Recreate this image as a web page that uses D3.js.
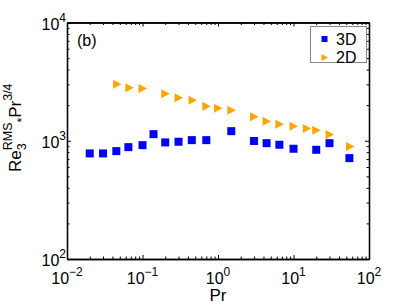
<!DOCTYPE html>
<html>
<head>
<meta charset="utf-8">
<script src="https://cdn.jsdelivr.net/npm/d3@7"></script>
<style>
body { margin: 0; background: #fff; }
text { font-family: "Liberation Sans", Arial, sans-serif; fill: #000; }
.axis path, .axis line { stroke: #000; }
</style>
</head>
<body>
<div id="chart"></div>
<script>
var W = 407, H = 306;

// 3D data (blue squares)
var pr3D = [0.02, 0.03, 0.045, 0.065, 0.1, 0.14, 0.2, 0.3, 0.45, 0.7, 1.5, 3, 4.4, 6.5, 10, 20, 30, 55];
var re3D = [781, 781, 817, 883, 918, 1137, 968, 981, 1012, 1012, 1205, 995, 954, 925, 856, 839, 954, 713];

// 2D data (orange triangles)
var pr2D = [0.046, 0.067, 0.1, 0.2, 0.3, 0.46, 0.7, 1.0, 1.5, 3, 4.4, 6.5, 10, 15, 20, 30, 56];
var re2D = [3010, 2805, 2767, 2495, 2308, 2203, 1960, 1886, 1815, 1596, 1465, 1381, 1328, 1270, 1229, 1130, 895];

var xTicks = [1e-2, 1e-1, 1e0, 1e1, 1e2];
var xExps = ["\u22122", "\u22121", "0", "1", "2"];
var yTicks = [1e2, 1e3, 1e4];
var yExps = ["2", "3", "4"];
var seriesNames = ["3D", "2D"];

var svg = d3.select("#chart").append("svg")
  .attr("width", W).attr("height", H);

var x = d3.scaleLog().domain([1e-2, 1e2]).range([67, 369]);
var y = d3.scaleLog().domain([1e2, 1e4]).range([259, 22.5]);

// minor tick values
var minorX = [], minorY = [];
[1e-2, 1e-1, 1, 10].forEach(function(d){ for (var k=2;k<10;k++) minorX.push(d*k); });
[1e2, 1e3].forEach(function(d){ for (var k=2;k<10;k++) minorY.push(d*k); });

function drawAxis(gen, tr, vals, size){
  var g = svg.append("g").attr("class","axis").attr("transform", tr)
    .call(gen.tickValues(vals).tickSize(-size).tickSizeOuter(0).tickFormat(""));
  g.selectAll("path").attr("stroke-width", 1.3);
  g.selectAll("line").attr("stroke-width", 1);
  return g;
}
var x0 = x.range()[0], x1 = x.range()[1], y0 = y.range()[0], y1 = y.range()[1];
drawAxis(d3.axisBottom(x), "translate(0," + y0 + ")", xTicks, 4);
drawAxis(d3.axisBottom(x), "translate(0," + y0 + ")", minorX, 2.5);
drawAxis(d3.axisTop(x), "translate(0," + y1 + ")", xTicks, 4);
drawAxis(d3.axisTop(x), "translate(0," + y1 + ")", minorX, 2.5);
drawAxis(d3.axisLeft(y), "translate(" + x0 + ",0)", yTicks, 4);
drawAxis(d3.axisLeft(y), "translate(" + x0 + ",0)", minorY, 2.5);
drawAxis(d3.axisRight(y), "translate(" + x1 + ",0)", yTicks, 4);
drawAxis(d3.axisRight(y), "translate(" + x1 + ",0)", minorY, 2.5);

// tick labels
xTicks.forEach(function(v, i){
  var t = svg.append("text").attr("x", x(v)).attr("y", 283.5)
    .attr("text-anchor", "middle").style("font-size", "16px");
  t.append("tspan").text("10");
  t.append("tspan").attr("dy", -8).style("font-size", "12px").text(xExps[i]);
});
yTicks.forEach(function(v, i){
  var t = svg.append("text").attr("x", 66).attr("y", y(v) + 7)
    .attr("text-anchor", "end").style("font-size", "16px");
  t.append("tspan").text("10");
  t.append("tspan").attr("dy", -8).style("font-size", "12px").text(yExps[i]);
});

// axis titles
svg.append("text").attr("x", (x0 + x1) / 2).attr("y", 301)
  .attr("text-anchor", "middle").style("font-size", "17px").text("Pr");

var yl = svg.append("g").attr("transform", "translate(21,172) rotate(-90)");
var u = 0;
function piece(str, size, dy){
  var t = yl.append("text").attr("x", u).attr("y", dy).style("font-size", size + "px").text(str);
  return t.node().getComputedTextLength();
}
u += piece("Re", 17, 0);
var wSub = piece("3", 12.5, 5);
var wSup = piece("RMS", 12.5, -9);
u += Math.max(wSub, wSup);
u += piece("*", 12, 5);
u += piece("Pr", 17, 0);
piece("3/4", 12.5, -9);

svg.append("text").attr("x", 77).attr("y", 46).style("font-size", "16px").text("(b)");

// markers
var d3D = pr3D.map(function(p, i){ return {p: p, v: re3D[i]}; });
var d2D = pr2D.map(function(p, i){ return {p: p, v: re2D[i]}; });
var tri = "M-4,-4.5L4.5,0L-4,4.5Z";

svg.selectAll("rect.sq").data(d3D).enter().append("rect")
  .attr("class", "sq")
  .attr("x", function(d){ return x(d.p) - 4; })
  .attr("y", function(d){ return y(d.v) - 4; })
  .attr("width", 8).attr("height", 8)
  .attr("fill", "#0000ff");

svg.selectAll("path.tri").data(d2D).enter().append("path")
  .attr("class", "tri")
  .attr("d", tri)
  .attr("transform", function(d){ return "translate(" + x(d.p) + "," + y(d.v) + ")"; })
  .attr("fill", "#ffa500");

// legend
var lg = svg.append("g");
lg.append("rect").attr("x", 310.5).attr("y", 26.5).attr("width", 56).attr("height", 36)
  .attr("fill", "#fff").attr("stroke", "#888").attr("stroke-width", 1);
lg.append("rect").attr("x", 321.5).attr("y", 36).attr("width", 6).attr("height", 6).attr("fill", "#0000ff");
lg.append("path").attr("d", "M-3,-3.5L3.5,0L-3,3.5Z").attr("transform", "translate(324.5,57.5)").attr("fill", "#ffa500");
seriesNames.forEach(function(s, i){
  lg.append("text").attr("x", 336).attr("y", 45 + i * 17.5).style("font-size", "16px").text(s);
});
</script>
</body>
</html>
